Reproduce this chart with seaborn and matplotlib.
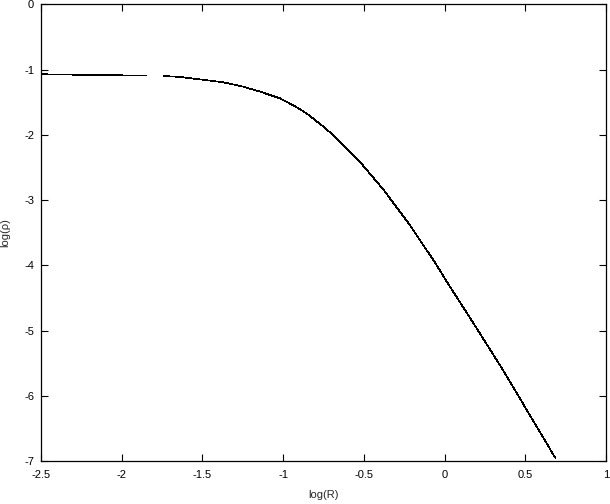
import numpy as np
import pandas as pd
import matplotlib
matplotlib.use("Agg")
import matplotlib.pyplot as plt
import seaborn as sns

# inner piece of the profile (before the small gap)
log_r_inner = [-2.5, -2.3, -2.05, -1.85]
log_rho_inner = [-1.072, -1.078, -1.087, -1.092]

# outer piece
log_r_outer = [-1.74, -1.65, -1.55, -1.45, -1.371, -1.25, -1.143, -1.02, -0.93,
               -0.854, -0.751, -0.68, -0.606, -0.53, -0.462, -0.38, -0.307, -0.22,
               -0.131, -0.06, 0.014, 0.10, 0.189, 0.28, 0.364, 0.45, 0.53, 0.61, 0.685]
log_rho_outer = [-1.10, -1.11, -1.14, -1.17, -1.195, -1.26, -1.338, -1.44, -1.557,
                 -1.672, -1.873, -2.026, -2.207, -2.397, -2.596, -2.834, -3.076, -3.363,
                 -3.692, -3.951, -4.25, -4.58, -4.925, -5.28, -5.61, -5.967, -6.30, -6.63, -6.945]

x_ticks = [-2.5, -2, -1.5, -1, -0.5, 0, 0.5, 1]
x_labels = ["-2.5", "-2", "-1.5", "-1", "-0.5", "0", "0.5", "1"]
y_ticks = [0, -1, -2, -3, -4, -5, -6, -7]
y_labels = ["0", "-1", "-2", "-3", "-4", "-5", "-6", "-7"]

sns.set_style("ticks")
plt.rcParams["font.family"] = ["Liberation Sans", "DejaVu Sans"]

fig = plt.figure(figsize=(6.1, 5.04), dpi=100)
ax = fig.add_axes([0.0672, 0.0847, 0.9262, 0.9068])

df_in = pd.DataFrame({"x": log_r_inner, "y": log_rho_inner})
df_out = pd.DataFrame({"x": log_r_outer, "y": log_rho_outer})
for d in (df_in, df_out):
    sns.lineplot(data=d, x="x", y="y", sort=False, color="black",
                 linewidth=0.5, antialiased=False, ax=ax)

ax.set_xlim(-2.5, 1)
ax.set_ylim(-7, 0)
ax.set_xticks(x_ticks)
ax.set_xticklabels(x_labels)
ax.set_yticks(y_ticks)
ax.set_yticklabels(y_labels)
ax.tick_params(direction="in", length=5, width=0.8, labelsize=8,
               top=True, right=True, colors="black")
ax.tick_params(axis="x", pad=6)
ax.tick_params(axis="y", pad=5)
for s in ax.spines.values():
    s.set_linewidth(0.9)
    s.set_color("black")

ax.set_xlabel("log(R)", fontsize=8)
ax.set_ylabel("log(\u03c1)", fontsize=8)
ax.xaxis.set_label_coords(0.5, -0.062)
ax.yaxis.set_label_coords(-0.054, 0.5)

fig.savefig("out.png", dpi=100)
